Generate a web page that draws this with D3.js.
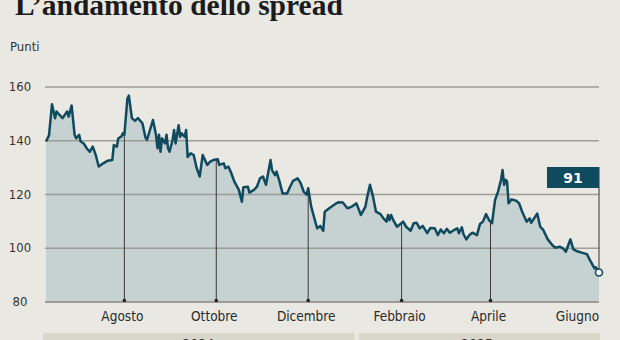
<!DOCTYPE html>
<html lang="it">
<head>
<meta charset="utf-8">
<script src="https://cdn.jsdelivr.net/npm/d3@7"></script>
<style>
  html, body { margin: 0; padding: 0; background: #e9e8e2; }
  svg { display: block; }
  .narrow { font-family: "Liberation Sans Narrow", "DejaVu Sans Condensed", "Roboto", sans-serif; font-stretch: condensed; }
</style>
</head>
<body>
<svg id="chart" width="620" height="340"></svg>
<script>
// Spread BTP-Bund, punti base
const dates = [
  "2024-06-10","2024-06-12","2024-06-14","2024-06-16","2024-06-17","2024-06-19","2024-06-21","2024-06-24","2024-06-25","2024-06-27",
  "2024-06-29","2024-06-30","2024-07-02","2024-07-03","2024-07-05","2024-07-07","2024-07-09","2024-07-11","2024-07-13","2024-07-15",
  "2024-07-18","2024-07-21","2024-07-24","2024-07-25","2024-07-27","2024-07-28","2024-07-30","2024-07-31","2024-08-01","2024-08-03",
  "2024-08-04","2024-08-06","2024-08-08","2024-08-10","2024-08-13","2024-08-15","2024-08-16","2024-08-18","2024-08-20","2024-08-22",
  "2024-08-23","2024-08-24","2024-08-25","2024-08-26","2024-08-28","2024-08-29","2024-08-30","2024-08-31","2024-09-02","2024-09-03",
  "2024-09-04","2024-09-06","2024-09-07","2024-09-08","2024-09-10","2024-09-11","2024-09-12","2024-09-14","2024-09-16","2024-09-18",
  "2024-09-20","2024-09-22","2024-09-25","2024-09-27","2024-09-29","2024-10-02","2024-10-03","2024-10-06","2024-10-07","2024-10-09",
  "2024-10-11","2024-10-13","2024-10-16","2024-10-18","2024-10-19","2024-10-22","2024-10-23","2024-10-26","2024-10-28","2024-10-30",
  "2024-11-01","2024-11-03","2024-11-06","2024-11-07","2024-11-09","2024-11-10","2024-11-12","2024-11-14","2024-11-17","2024-11-19",
  "2024-11-21","2024-11-24","2024-11-26","2024-11-28","2024-11-30","2024-12-01","2024-12-03","2024-12-06","2024-12-07","2024-12-09",
  "2024-12-11","2024-12-12","2024-12-15","2024-12-19","2024-12-21","2024-12-24","2024-12-27","2024-12-30","2025-01-02","2025-01-05",
  "2025-01-08","2025-01-09","2025-01-11","2025-01-13","2025-01-15","2025-01-18","2025-01-20","2025-01-22","2025-01-23","2025-01-24",
  "2025-01-25","2025-01-27","2025-01-29","2025-02-02","2025-02-04","2025-02-07","2025-02-09","2025-02-11","2025-02-13","2025-02-15",
  "2025-02-18","2025-02-20","2025-02-23","2025-02-25","2025-02-27","2025-03-01","2025-03-03","2025-03-05","2025-03-08","2025-03-10",
  "2025-03-11","2025-03-13","2025-03-14","2025-03-16","2025-03-18","2025-03-20","2025-03-23","2025-03-25","2025-03-27","2025-03-29",
  "2025-03-31","2025-04-02","2025-04-04","2025-04-06","2025-04-08","2025-04-09","2025-04-10","2025-04-11","2025-04-12","2025-04-13",
  "2025-04-15","2025-04-18","2025-04-20","2025-04-22","2025-04-25","2025-04-27","2025-04-28","2025-05-02","2025-05-04","2025-05-06",
  "2025-05-09","2025-05-12","2025-05-14","2025-05-17","2025-05-19","2025-05-21","2025-05-24","2025-05-26","2025-05-28","2025-06-01",
  "2025-06-04","2025-06-06","2025-06-09","2025-06-10","2025-06-12"
];
const spread = [
  139.7,142.0,153.6,148.4,150.9,149.6,148.4,150.9,149.0,153.1,
  142.2,140.9,142.2,139.7,139.0,137.2,135.9,137.8,134.7,130.4,
  131.6,132.6,132.8,138.4,137.8,140.9,141.5,142.8,142.2,155.6,
  156.8,148.4,147.4,148.4,146.5,141.2,140.3,144.0,147.7,142.2,
  137.2,142.2,135.9,140.9,139.0,142.2,137.2,135.9,140.3,144.0,
  139.0,145.8,141.5,142.8,141.5,144.0,134.0,135.3,134.7,129.8,
  126.7,134.7,131.0,132.2,132.8,133.1,131.0,131.6,129.8,130.4,
  127.9,124.8,121.7,117.3,122.7,122.9,120.7,121.7,122.9,126.0,
  126.7,123.6,132.8,129.1,127.2,128.5,124.8,120.4,120.4,122.9,
  125.1,126.0,124.2,121.1,119.9,122.3,115.5,109.3,107.4,108.3,
  106.5,113.6,114.9,116.5,117.1,117.0,114.9,115.5,116.7,112.4,
  115.5,118.6,123.6,119.3,113.6,112.7,111.1,109.9,112.4,110.5,
  112.4,109.9,108.0,109.9,108.0,106.5,109.3,109.5,107.4,108.3,
  105.6,107.5,107.4,104.9,107.0,105.6,107.2,105.8,106.8,107.4,
  105.6,107.8,105.3,103.3,104.9,105.8,104.9,109.0,109.9,112.7,
  110.5,109.3,117.9,121.1,125.5,129.1,123.6,125.5,124.8,116.7,
  118.2,117.7,116.7,113.6,109.9,111.1,109.5,112.9,108.0,106.8,
  103.3,101.2,100.2,100.6,100.0,98.7,103.3,99.6,99.0,98.3,
  97.8,95.6,92.5,92.9,91
];
const yTicks = [80, 100, 120, 140, 160];
const monthTicks = ["2024-08-01","2024-10-01","2024-12-01","2025-02-01","2025-04-01","2025-06-01"];
const monthLabels = ["Agosto","Ottobre","Dicembre","Febbraio","Aprile","Giugno"];
const tickDrawn = [true, true, true, true, true, false];
const years = ["2024","2025"];
const yearSpans = [["2024-06-10","2024-12-31"],["2025-01-01","2025-06-12"]];

const parse = d3.timeParse("%Y-%m-%d");
const data = dates.map((d, i) => ({ date: parse(d), value: spread[i] }));
const last = data[data.length - 1];

const svg = d3.select("#chart");
const plotLeft = 46, plotRight = 599, plotTop = 87, plotBottom = 302;

const x = d3.scaleTime()
  .domain([data[0].date, last.date])
  .range([plotLeft, plotRight]);
const y = d3.scaleLinear().domain([80, 160]).range([plotBottom, plotTop]);

const ink = "#0f4a5e";

// Titolo
svg.append("text")
  .attr("x", 15).attr("y", 15)
  .attr("font-family", "Liberation Serif, 'DejaVu Serif', serif")
  .attr("font-weight", "bold")
  .attr("font-size", 29.5)
  .attr("fill", "#1b1b1b")
  .text("L’andamento dello spread");

svg.append("text")
  .attr("class", "narrow")
  .attr("x", 10).attr("y", 51)
  .attr("font-size", 13).attr("fill", "#333")
  .text("Punti");

// Area sotto la curva
svg.append("path")
  .datum(data)
  .attr("fill", "#c6d1d1")
  .attr("d", d3.area().x(d => x(d.date)).y0(y(80)).y1(d => y(d.value)));

// Griglia orizzontale ed etichette dell'asse y
const grid = svg.append("g");
grid.selectAll("line").data(yTicks).join("line")
  .attr("x1", plotLeft - 1).attr("x2", plotRight)
  .attr("y1", d => y(d)).attr("y2", d => y(d))
  .attr("stroke", "#9e9c96")
  .attr("stroke-width", d => d === 80 ? 2.2 : 1.5);
grid.selectAll("text").data(yTicks).join("text")
  .attr("class", "narrow")
  .attr("x", 20).attr("y", d => y(d) + 4)
  .attr("text-anchor", "middle")
  .attr("font-size", 13).attr("fill", "#333")
  .text(d => d);

// Linee verticali dei mesi, dalla curva fino all'asse
const bis = d3.bisector(d => d.date).left;
function valueAt(dt) {
  const i = bis(data, dt);
  if (i <= 0) return data[0].value;
  if (i >= data.length) return last.value;
  const a = data[i - 1], b = data[i];
  const t = (dt - a.date) / (b.date - a.date);
  return a.value + t * (b.value - a.value);
}
const months = monthTicks.map((m, i) => ({ date: parse(m), label: monthLabels[i], drawn: tickDrawn[i] }));
const mg = svg.append("g");
mg.selectAll("line").data(months.filter(d => d.drawn)).join("line")
  .attr("x1", d => x(d.date)).attr("x2", d => x(d.date))
  .attr("y1", d => y(valueAt(d.date))).attr("y2", y(80) - 1)
  .attr("stroke", "#3a3a3a").attr("stroke-width", 1);
mg.selectAll("circle").data(months.filter(d => d.drawn)).join("circle")
  .attr("cx", d => x(d.date)).attr("cy", y(80) - 1.5).attr("r", 1.8)
  .attr("fill", "#222");
mg.selectAll("text").data(months).join("text")
  .attr("class", "narrow")
  .attr("x", d => x(d.date) - (d.drawn ? 2 : 5)).attr("y", 321)
  .attr("text-anchor", "middle")
  .attr("font-size", 13.5).attr("fill", "#2a2a2a")
  .text(d => d.label);

// Curva dello spread
svg.append("path")
  .datum(data)
  .attr("fill", "none")
  .attr("stroke", ink)
  .attr("stroke-width", 2.5)
  .attr("stroke-linejoin", "round")
  .attr("d", d3.line().x(d => x(d.date)).y(d => y(d.value)));

// Etichetta dell'ultimo valore
const boxW = 52, boxH = 21, boxTop = 167;
svg.append("line")
  .attr("x1", x(last.date)).attr("x2", x(last.date))
  .attr("y1", boxTop).attr("y2", y(last.value))
  .attr("stroke", "#333").attr("stroke-width", 1);
svg.append("rect")
  .attr("x", x(last.date) - boxW).attr("y", boxTop)
  .attr("width", boxW).attr("height", boxH)
  .attr("fill", ink);
svg.append("text")
  .attr("x", x(last.date) - boxW / 2).attr("y", boxTop + 15.5)
  .attr("text-anchor", "middle")
  .attr("font-family", "'DejaVu Sans', sans-serif")
  .attr("font-weight", "bold").attr("font-size", 14)
  .attr("fill", "#fff")
  .text(last.value);
svg.append("circle")
  .attr("cx", x(last.date)).attr("cy", y(last.value)).attr("r", 3.5)
  .attr("fill", "#fff").attr("stroke", ink).attr("stroke-width", 1.6);

// Fasce degli anni
const yg = svg.append("g");
const spans = years.map((yr, i) => ({ yr, a: parse(yearSpans[i][0]), b: parse(yearSpans[i][1]) }));
yg.selectAll("rect").data(spans).join("rect")
  .attr("x", (d, i) => i === 0 ? plotLeft - 3 : x(d.a) + 4)
  .attr("width", (d, i) => i === 0 ? x(d.b) - plotLeft + 4 : plotRight + 1 - x(d.a) - 4)
  .attr("y", 333).attr("height", 20)
  .attr("fill", "#d8d7ca");
yg.selectAll("text").data(spans).join("text")
  .attr("class", "narrow")
  .attr("x", (d, i) => i === 0 ? (plotLeft - 3 + x(d.b)) / 2 : (x(d.a) + plotRight) / 2)
  .attr("y", 349)
  .attr("text-anchor", "middle")
  .attr("font-size", 14).attr("fill", "#333")
  .text(d => d.yr);
</script>
</body>
</html>
